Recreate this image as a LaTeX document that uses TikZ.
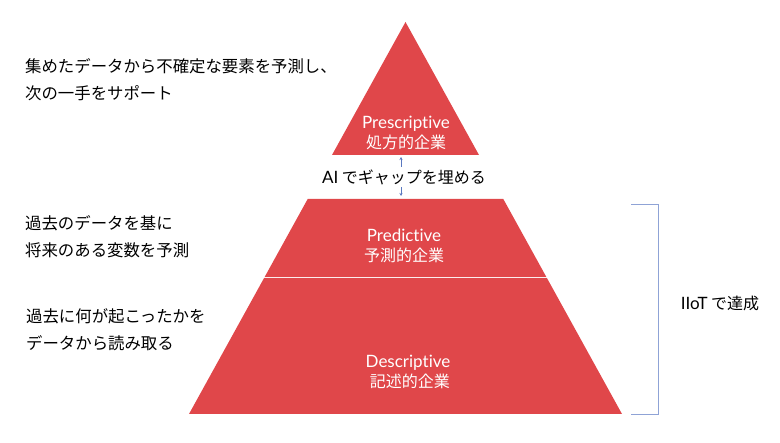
\documentclass[tikz,border=0pt]{standalone}
\usepackage{fontspec}
\setmainfont{Noto Sans CJK JP}
\newfontfamily\latinf{Lato}[Ligatures=NoCommon]
\usetikzlibrary{arrows.meta}
\definecolor{pyred}{HTML}{E0474A}
\definecolor{brblue}{HTML}{8FA3D6}
\definecolor{arblue}{HTML}{5A78C0}
\tikzset{
  layer/.style={fill=pyred, draw=none},
  lab/.style={text=white, align=center, inner sep=0pt, font=\fontsize{16}{20}\selectfont},
  note/.style={anchor=west, align=left, inner sep=0pt, font=\fontsize{16.4}{27}\selectfont},
  sep/.style={draw=white!90!pyred, line width=1pt},
  gap/.style={draw=arblue, line width=0.6pt, {Stealth[length=3pt,width=3pt]}-{Stealth[length=3pt,width=3pt]}},
  brace/.style={draw=brblue, line width=1pt}
}
\begin{document}
\begin{tikzpicture}[x=1pt,y=-1pt]
\useasboundingbox (0,0) rectangle (780,443);
% pyramid layers
\path[layer] (405.5,22) -- (479,155) -- (332,155) -- cycle;
\path[layer] (307.7,199) -- (503.3,199) -- (622,414) -- (189,414) -- cycle;
\draw[sep] (264.2,278) -- (546.8,278);
% labels in layers
\node[lab] (pre) at (406,133) {{\latinf\fontsize{17}{20}\selectfont Prescriptive}\\処方的企業};
\node[lab] (pred) at (404,246) {{\latinf\fontsize{17}{20}\selectfont Predictive}\\予測的企業};
\node[lab] (desc) at (408,372) {{\latinf\fontsize{17}{20}\selectfont Descriptive}\\\ 記述的企業};
% gap arrow
\coordinate (gtop) at (401,157);
\coordinate (gbot) at (401,196);
\draw[gap] (gtop) -- (gbot);
\node[fill=white, inner sep=2pt, font=\fontsize{16}{20}\selectfont] (ai) at (404,177) {{\latinf\fontsize{17}{20}\selectfont AI} でギャップを埋める};
% bracket
\coordinate (b1) at (631,205);
\coordinate (b2) at (658,205);
\coordinate (b3) at (658,415);
\coordinate (b4) at (631,415);
\draw[brace] (b1) -- (b2) -- (b3) -- (b4);
\node[inner sep=0pt, font=\fontsize{16}{20}\selectfont] (iiot) at (720,303) {{\latinf\fontsize{17}{20}\selectfont IIoT} で達成};
% notes
\node[note] (n1) at (25,80) {集めたデータから不確定な要素を予測し、\\次の一手をサポート};
\node[note] (n2) at (25,237) {過去のデータを基に\\将来のある変数を予測};
\node[note] (n3) at (26,330) {過去に何が起こったかを\\データから読み取る};
\end{tikzpicture}
\end{document}
